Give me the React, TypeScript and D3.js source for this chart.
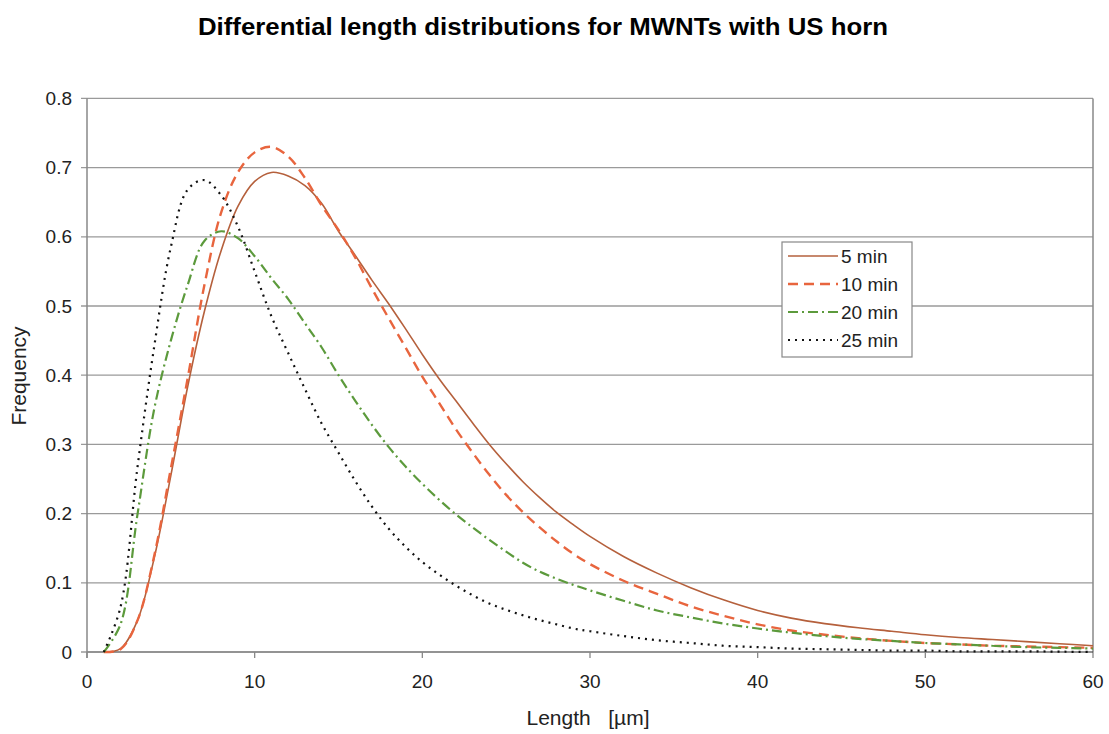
import React from "react";
import * as d3 from "d3";

const lengths = [1,2,3,4,5,6,7,8,9,10,11,12,13,14,15,16,17,18,19,20,21,22,23,24,25,26,27,28,29,30,32,34,36,38,40,42,44,46,48,50,52,54,56,58,60];
const min5 = [0,0.005,0.045,0.135,0.255,0.383,0.492,0.58,0.644,0.68,0.693,0.688,0.674,0.648,0.608,0.573,0.537,0.503,0.467,0.43,0.395,0.363,0.331,0.3,0.272,0.246,0.223,0.202,0.184,0.167,0.138,0.114,0.093,0.075,0.06,0.049,0.041,0.035,0.03,0.025,0.021,0.018,0.015,0.012,0.009];
const min10 = [0,0.004,0.045,0.138,0.265,0.395,0.53,0.635,0.693,0.722,0.73,0.716,0.685,0.645,0.61,0.57,0.525,0.482,0.44,0.398,0.36,0.322,0.288,0.256,0.227,0.202,0.18,0.16,0.142,0.127,0.103,0.084,0.066,0.052,0.04,0.031,0.025,0.02,0.016,0.013,0.011,0.009,0.008,0.007,0.006];
const min20 = [0,0.04,0.197,0.35,0.45,0.53,0.594,0.608,0.598,0.572,0.54,0.51,0.475,0.44,0.4,0.363,0.328,0.296,0.268,0.243,0.22,0.199,0.18,0.162,0.145,0.129,0.116,0.106,0.097,0.089,0.074,0.06,0.05,0.041,0.034,0.028,0.023,0.019,0.016,0.013,0.011,0.009,0.007,0.006,0.005];
const min25 = [0,0.065,0.265,0.44,0.585,0.668,0.682,0.66,0.615,0.55,0.485,0.432,0.38,0.33,0.288,0.247,0.21,0.178,0.152,0.13,0.112,0.096,0.082,0.07,0.061,0.053,0.046,0.04,0.034,0.03,0.023,0.017,0.013,0.009,0.007,0.005,0.004,0.003,0.002,0.002,0.001,0.001,0.001,0.0005,0];

const seriesNames = ["5 min", "10 min", "20 min", "25 min"];
const xTicks = [0, 10, 20, 30, 40, 50, 60];
const yTicks = [0, 0.1, 0.2, 0.3, 0.4, 0.5, 0.6, 0.7, 0.8];

const styles = [
  { color: "#b5603c", width: 1.6, dash: "" },
  { color: "#e8653e", width: 2.4, dash: "10,6" },
  { color: "#5c9a3c", width: 2.2, dash: "10,4,2,4" },
  { color: "#111111", width: 2.2, dash: "2,5" },
];

const W = 1109, H = 734;
const L = 87, R = 1093, T = 98.4, B = 652;

export default function App() {
  const x = d3.scaleLinear().domain([0, 60]).range([L, R]);
  const y = d3.scaleLinear().domain([0, 0.8]).range([B, T]);
  const data = [min5, min10, min20, min25];
  const line = d3
    .line<number>()
    .x((_, i) => x(lengths[i]))
    .y((d) => y(d))
    .curve(d3.curveCatmullRom.alpha(0.5));
  const font = "'Liberation Sans', Arial, sans-serif";
  const lx = 782, ly = 242, lw = 130, lh = 115;
  const rowY = [256, 284, 312, 340];
  return (
    <svg width={W} height={H} style={{ position: "absolute", left: 0, top: 0, background: "#fff" }} fontFamily={font}>
      <rect x={0} y={0} width={W} height={H} fill="#fff" />
      <text x={543} y={35} textAnchor="middle" fontSize={23} fontWeight="bold" fill="#000" textLength={690} lengthAdjust="spacingAndGlyphs">
        Differential length distributions for MWNTs with US horn
      </text>
      {yTicks.map((t) => (
        <g key={"y" + t}>
          <line x1={L - 6} x2={R} y1={y(t)} y2={y(t)} stroke="#9a9a9a" strokeWidth={1.3} />
          <text x={72} y={y(t) + 6.5} textAnchor="end" fontSize={19} fill="#222">
            {t === 0 ? "0" : t.toFixed(1)}
          </text>
        </g>
      ))}
      {xTicks.map((t) => (
        <g key={"x" + t}>
          <line x1={x(t)} x2={x(t)} y1={B} y2={B + 6} stroke="#888" strokeWidth={1.3} />
          <text x={x(t)} y={688} textAnchor="middle" fontSize={19} fill="#222">
            {t}
          </text>
        </g>
      ))}
      <line x1={L} x2={L} y1={T} y2={B + 6} stroke="#888" strokeWidth={1.5} />
      <line x1={R} x2={R} y1={T} y2={B} stroke="#888" strokeWidth={1.5} />
      <line x1={L} x2={R} y1={B} y2={B} stroke="#888" strokeWidth={1.5} />
      {data.map((d, i) => (
        <path
          key={seriesNames[i]}
          d={line(d) || ""}
          fill="none"
          stroke={styles[i].color}
          strokeWidth={styles[i].width}
          strokeDasharray={styles[i].dash}
        />
      ))}
      <text x={0} y={0} transform="translate(26,376) rotate(-90)" textAnchor="middle" fontSize={21} fill="#222">
        Frequency
      </text>
      <text x={588} y={725} textAnchor="middle" fontSize={21} fill="#222" style={{ whiteSpace: "pre" }}>
        {"Length   [\u00b5m]"}
      </text>
      <rect x={lx} y={ly} width={lw} height={lh} fill="#fff" stroke="#888" strokeWidth={1.2} />
      {seriesNames.map((n, i) => (
        <g key={"lg" + n}>
          <line x1={788} x2={838} y1={rowY[i]} y2={rowY[i]} stroke={styles[i].color} strokeWidth={styles[i].width} strokeDasharray={styles[i].dash} />
          <text x={841} y={rowY[i] + 6.5} fontSize={19} fill="#222">
            {n}
          </text>
        </g>
      ))}
    </svg>
  );
}
